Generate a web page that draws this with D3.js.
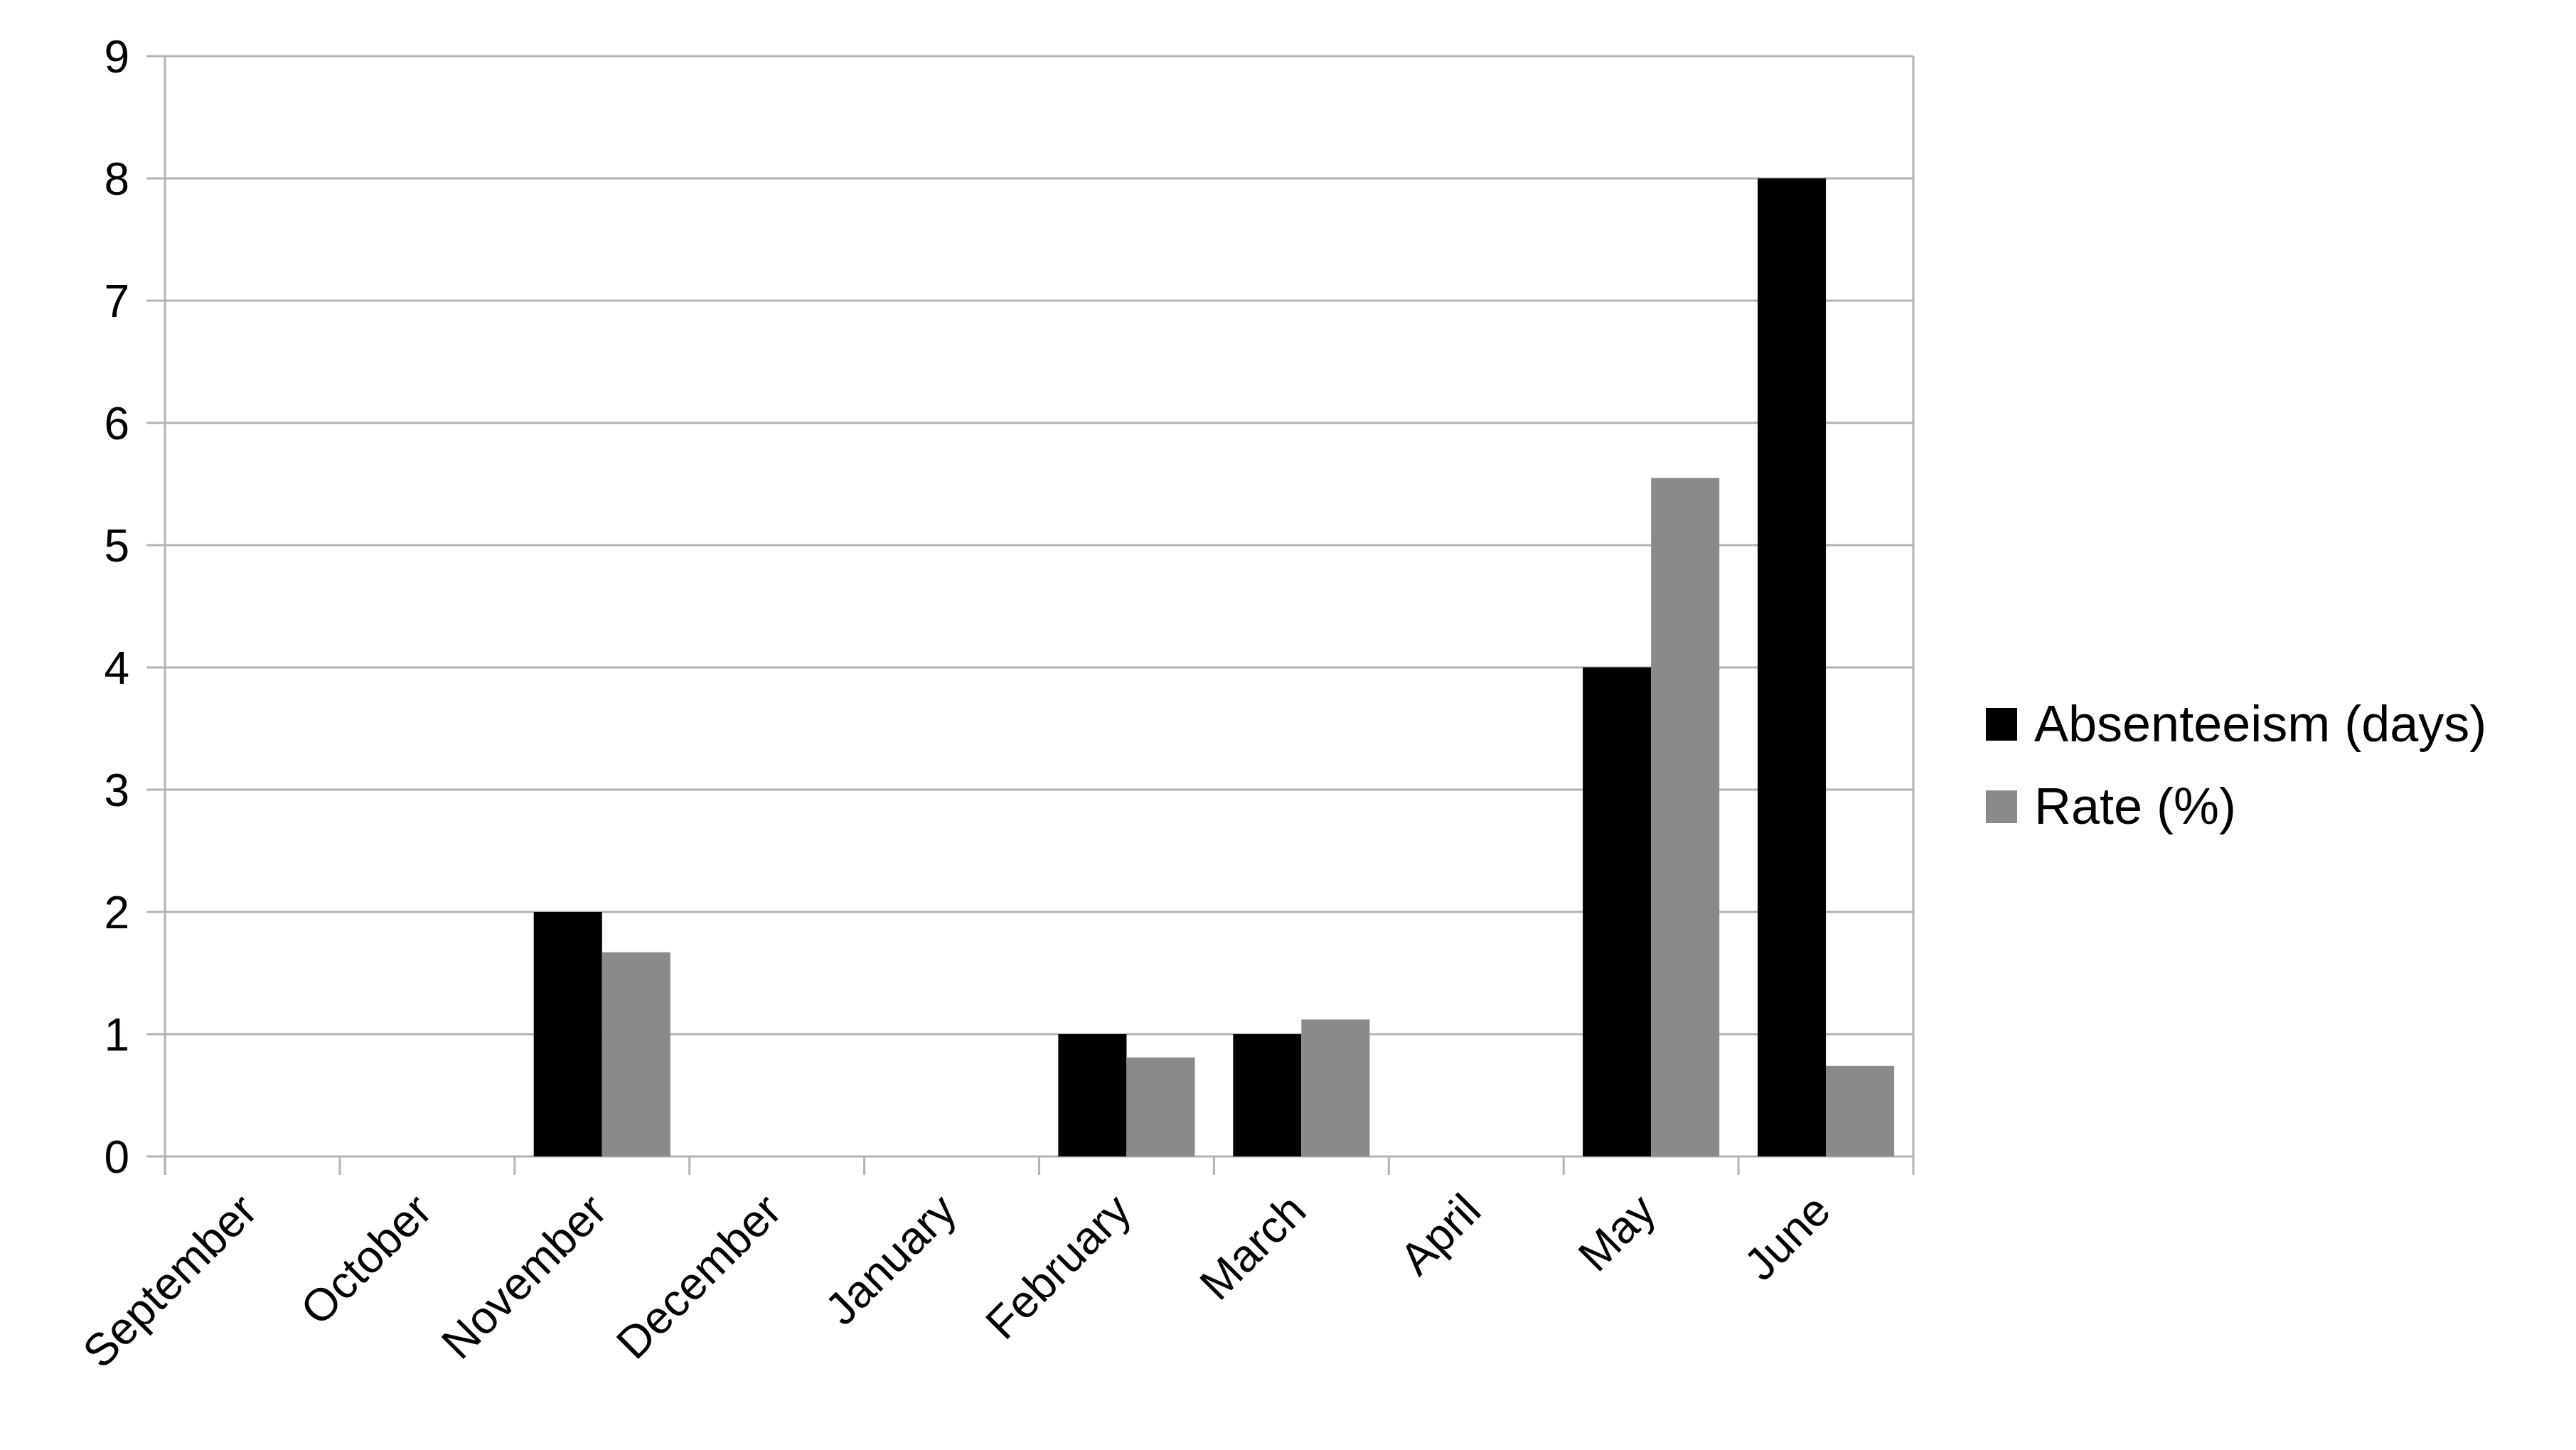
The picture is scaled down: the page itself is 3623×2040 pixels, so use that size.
<!DOCTYPE html>
<html><head><meta charset="utf-8">
<script src="https://cdn.jsdelivr.net/npm/d3@7"></script>
<style>body{margin:0;background:#fff}text{font-family:"Liberation Sans",Arial,sans-serif}</style>
</head><body><svg id="chart" width="3623" height="2040"></svg>
<script>
const months = ["September","October","November","December","January","February","March","April","May","June"];
const absenteeism = [0,0,2,0,0,1,1,0,4,8];
const rate = [0,0,1.67,0,0,0.81,1.12,0,5.55,0.74];
const yTicks = [0,1,2,3,4,5,6,7,8,9];
const seriesNames = ["Absenteeism (days)","Rate (%)"];
const seriesColors = ["#000000","#8a8a8a"];

const plotLeft = 232, plotRight = 2691, plotTop = 79, plotBottom = 1627;
const svg = d3.select("#chart");

const x = d3.scaleBand().domain(months).range([plotLeft, plotRight]).padding(0);
const x1 = d3.scaleBand().domain([0,1]).range([0, x.bandwidth()]).paddingInner(0).paddingOuter(0.28);
const y = d3.scaleLinear().domain([0,9]).range([plotBottom, plotTop]);

// grid
svg.append("g").selectAll("line").data(yTicks).join("line")
    .attr("x1", plotLeft - 26).attr("x2", plotRight)
    .attr("y1", d => y(d)).attr("y2", d => y(d))
    .attr("stroke", "#b3b3b3").attr("stroke-width", 3);
svg.append("line").attr("x1", plotLeft).attr("x2", plotLeft).attr("y1", plotTop).attr("y2", plotBottom + 26)
    .attr("stroke", "#b3b3b3").attr("stroke-width", 3);
svg.append("line").attr("x1", plotRight).attr("x2", plotRight).attr("y1", plotTop).attr("y2", plotBottom + 26)
    .attr("stroke", "#b3b3b3").attr("stroke-width", 3);
svg.append("g").selectAll("line").data(months).join("line")
    .attr("x1", d => x(d)).attr("x2", d => x(d))
    .attr("y1", plotBottom).attr("y2", plotBottom + 26)
    .attr("stroke", "#b3b3b3").attr("stroke-width", 3);

// bars
[absenteeism, rate].forEach((vals, s) => {
    svg.append("g").selectAll("rect").data(vals).join("rect")
        .attr("x", (d, i) => x(months[i]) + x1(s))
        .attr("width", x1.bandwidth())
        .attr("y", d => y(d))
        .attr("height", d => plotBottom - y(d))
        .attr("fill", seriesColors[s]);
});

// y labels
svg.append("g").selectAll("text").data(yTicks).join("text")
    .attr("x", plotLeft - 50).attr("y", d => y(d) + 23)
    .attr("text-anchor", "end").attr("font-size", 64).text(d => d);

// x labels
svg.append("g").selectAll("text").data(months).join("text")
    .attr("text-anchor", "end").attr("font-size", 64)
    .attr("transform", d => `translate(${x(d) + x.bandwidth() / 2 + 10},${plotBottom + 80}) rotate(-45)`)
    .text(d => d);

// legend
const lg = svg.append("g");
seriesNames.forEach((n, i) => {
    lg.append("rect").attr("x", 2793).attr("y", 996 + i * 116).attr("width", 44).attr("height", 46)
        .attr("fill", seriesColors[i]);
    lg.append("text").attr("x", 2861).attr("y", 1043 + i * 116).attr("font-size", 72).text(n);
});
</script></body></html>
